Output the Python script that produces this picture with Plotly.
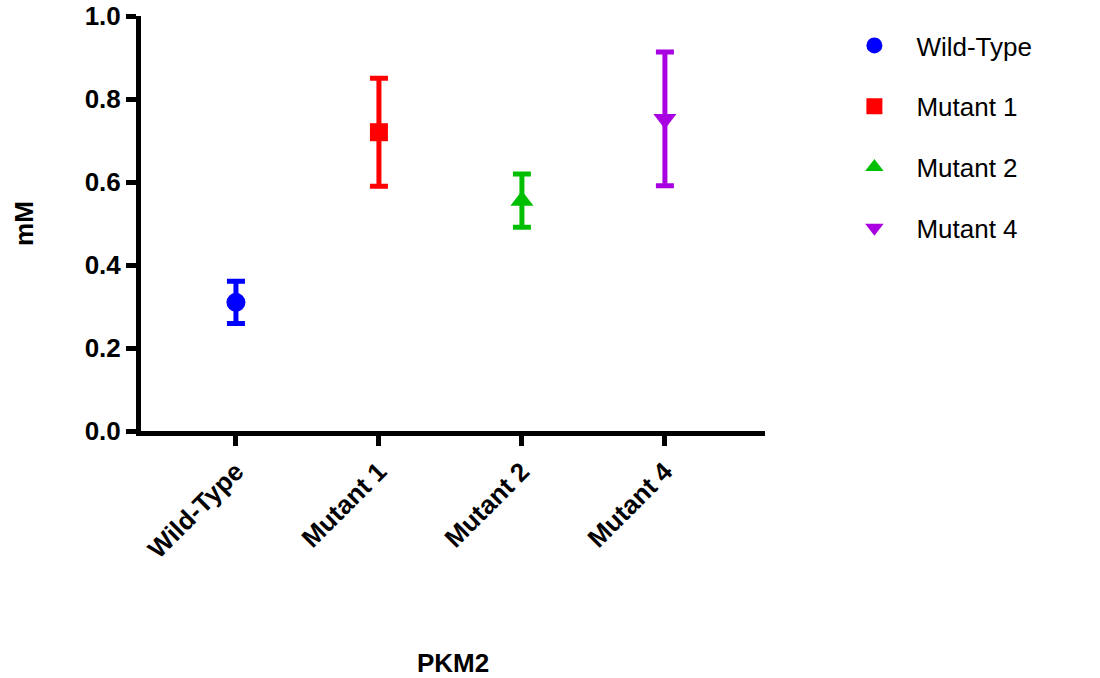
import plotly.graph_objects as go

categories = ["Wild-Type", "Mutant 1", "Mutant 2", "Mutant 4"]
means = [0.31, 0.72, 0.555, 0.752]
errors = [0.051, 0.13, 0.064, 0.161]
colors = ["#0000FF", "#FF0000", "#00BF00", "#A800E0"]
symbols = ["circle", "square", "triangle-up", "triangle-down"]
sizes = [19, 18, 20, 20]
y_ticks = [0.0, 0.2, 0.4, 0.6, 0.8, 1.0]

fig = go.Figure()
for i, name in enumerate(categories):
    fig.add_trace(go.Scatter(
        x=[i], y=[means[i]], mode="markers", name=name,
        legendgroup=name,
        marker=dict(symbol=symbols[i], size=sizes[i], color=colors[i]),
        error_y=dict(type="data", array=[errors[i]], visible=True,
                     color=colors[i], thickness=5, width=9),
    ))

fig.update_layout(
    width=1100, height=678,
    margin=dict(l=141, r=335, t=16, b=247),
    paper_bgcolor="white", plot_bgcolor="white",
    font=dict(family="Liberation Sans, Arial, sans-serif", color="black"),
    legend=dict(x=1.108, y=0.9855, xanchor="left", yanchor="top",
                font=dict(size=26, color="black"),
                tracegroupgap=24, itemwidth=74),
    showlegend=True,
)
fig.update_xaxes(
    range=[-0.664, 3.70], automargin=False,
    tickmode="array", tickvals=list(range(len(categories))), ticktext=categories,
    tickangle=-45,
    showline=True, linewidth=5, linecolor="black",
    ticks="outside", ticklen=10, tickwidth=5, tickcolor="black",
    showgrid=False, zeroline=False,
    tickfont=dict(size=26, weight="bold"),
    title=dict(text="PKM2", font=dict(size=26, weight="bold"), standoff=98),
)
fig.update_yaxes(
    range=[0, 1.0], automargin=False,
    tickmode="array", tickvals=y_ticks, ticktext=[f"{v:.1f}" for v in y_ticks],
    showline=True, linewidth=5, linecolor="black",
    ticks="outside", ticklen=10, tickwidth=5, tickcolor="black",
    showgrid=False, zeroline=False,
    tickfont=dict(size=26, weight="bold"),
    title=dict(text="mM", font=dict(size=26, weight="bold"), standoff=45),
)

fig.write_html("out.html")
